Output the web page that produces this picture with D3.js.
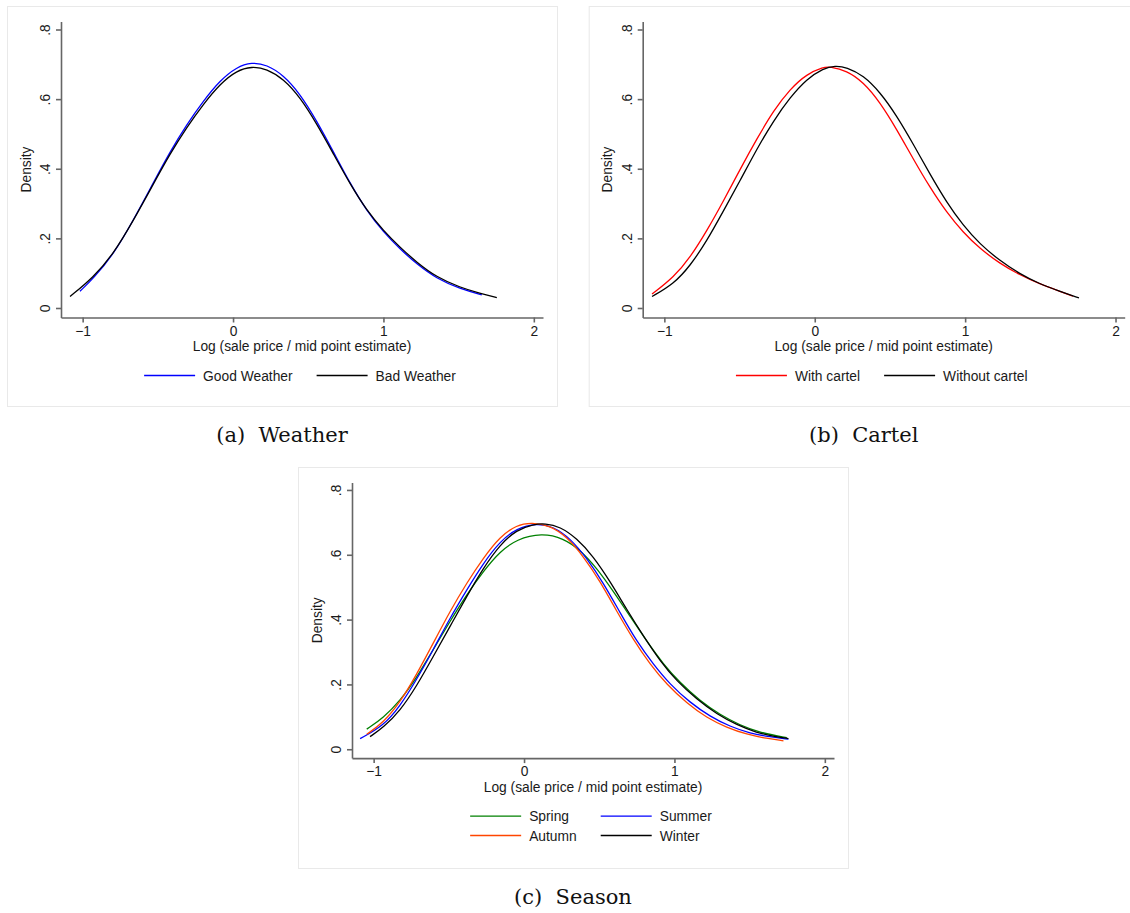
<!DOCTYPE html>
<html>
<head>
<meta charset="utf-8">
<title>Kernel densities of log sale price</title>
<style>
  body { margin: 0; background: #fff; }
  svg { display: block; }
  .tick text, .axis-title, .legend-label {
    font-family: "Liberation Sans", Arial, sans-serif;
    font-size: 13.8px;
    fill: #1a1a1a;
  }
  .caption {
    font-family: "DejaVu Serif", serif;
    font-size: 21px;
    fill: #111;
    white-space: pre;
  }
  .frame { fill: #fff; stroke: #e9e9e9; stroke-width: 1; }
  .axis path, .axis line { stroke: #666; stroke-width: 1.6; }
  .curve { fill: none; stroke-width: 1.3; stroke-linejoin: round; }
</style>
</head>
<body>
<svg width="1130" height="913"></svg>
<script src="https://d3js.org/d3.v7.min.js"></script>
<script>
// values: [log price ratio, density]
var goodWeather = [[-1.018,0.048],[-0.929,0.085],[-0.796,0.153],[-0.663,0.252],[-0.530,0.360],[-0.419,0.449],
  [-0.308,0.527],[-0.197,0.595],[-0.086,0.654],[0.024,0.692],[0.124,0.706],[0.224,0.699],[0.335,0.669],
  [0.446,0.615],[0.557,0.537],[0.667,0.449],[0.778,0.358],[0.889,0.279],[1.0,0.218],[1.111,0.169],
  [1.222,0.126],[1.355,0.084],[1.510,0.055],[1.654,0.038]];
var badWeather = [[-1.084,0.033],[-0.929,0.088],[-0.796,0.155],[-0.663,0.251],[-0.530,0.356],[-0.419,0.443],
  [-0.308,0.519],[-0.197,0.586],[-0.086,0.644],[0.024,0.682],[0.124,0.694],[0.224,0.687],[0.335,0.658],
  [0.446,0.605],[0.557,0.529],[0.667,0.443],[0.778,0.356],[0.889,0.280],[1.0,0.222],[1.111,0.174],
  [1.222,0.131],[1.355,0.088],[1.510,0.059],[1.643,0.042],[1.754,0.030]];

var withCartel = [[-1.082,0.040],[-0.938,0.088],[-0.827,0.146],[-0.717,0.222],[-0.606,0.308],[-0.496,0.399],
  [-0.385,0.486],[-0.274,0.567],[-0.164,0.629],[-0.053,0.672],[0.058,0.692],[0.100,0.693],[0.212,0.682],
  [0.323,0.649],[0.434,0.591],[0.544,0.514],[0.655,0.428],[0.765,0.347],[0.876,0.275],[0.987,0.217],
  [1.097,0.171],[1.230,0.128],[1.363,0.095],[1.496,0.069],[1.628,0.048],[1.717,0.034]];
var withoutCartel = [[-1.082,0.033],[-0.938,0.069],[-0.827,0.122],[-0.717,0.193],[-0.606,0.280],[-0.496,0.366],
  [-0.385,0.457],[-0.274,0.538],[-0.164,0.605],[-0.053,0.658],[0.058,0.689],[0.135,0.696],[0.212,0.692],
  [0.323,0.668],[0.434,0.620],[0.544,0.553],[0.655,0.471],[0.765,0.385],[0.876,0.304],[0.987,0.237],
  [1.097,0.184],[1.230,0.136],[1.363,0.098],[1.496,0.069],[1.628,0.048],[1.757,0.029]];

var spring = [[-1.046,0.062],[-0.936,0.097],[-0.825,0.149],[-0.714,0.221],[-0.603,0.308],[-0.492,0.395],
  [-0.381,0.477],[-0.271,0.549],[-0.160,0.610],[-0.049,0.648],[0.118,0.667],[0.262,0.651],[0.373,0.615],
  [0.483,0.559],[0.594,0.487],[0.705,0.410],[0.816,0.333],[0.927,0.262],[1.038,0.205],[1.171,0.149],
  [1.304,0.106],[1.437,0.074],[1.570,0.051],[1.747,0.036]];
var summer = [[-1.090,0.033],[-0.936,0.072],[-0.825,0.133],[-0.714,0.215],[-0.603,0.308],[-0.492,0.405],
  [-0.381,0.492],[-0.271,0.574],[-0.160,0.641],[-0.049,0.682],[0.084,0.697],[0.195,0.687],[0.306,0.651],
  [0.417,0.590],[0.528,0.513],[0.639,0.421],[0.749,0.333],[0.860,0.262],[0.971,0.200],[1.104,0.144],
  [1.237,0.101],[1.370,0.070],[1.503,0.049],[1.636,0.038],[1.758,0.031]];
var autumn = [[-1.046,0.046],[-0.936,0.082],[-0.825,0.144],[-0.714,0.231],[-0.603,0.328],[-0.492,0.426],
  [-0.381,0.513],[-0.271,0.590],[-0.160,0.656],[-0.049,0.692],[0.051,0.700],[0.173,0.690],[0.284,0.656],
  [0.395,0.595],[0.506,0.518],[0.616,0.426],[0.727,0.338],[0.838,0.262],[0.949,0.200],[1.082,0.142],
  [1.215,0.097],[1.348,0.067],[1.481,0.046],[1.614,0.033],[1.725,0.026]];
var winter = [[-1.024,0.039],[-0.936,0.067],[-0.825,0.118],[-0.714,0.195],[-0.603,0.287],[-0.492,0.379],
  [-0.381,0.472],[-0.271,0.559],[-0.160,0.631],[-0.049,0.677],[0.062,0.694],[0.140,0.697],[0.239,0.687],
  [0.350,0.651],[0.461,0.595],[0.572,0.518],[0.683,0.431],[0.794,0.349],[0.905,0.272],[1.016,0.210],
  [1.149,0.154],[1.282,0.108],[1.415,0.075],[1.548,0.051],[1.659,0.040],[1.758,0.033]];

var xTicks = [-1, 0, 1, 2];
var yTicks = [0, 0.2, 0.4, 0.6, 0.8];
var xTitle = 'Log (sale price / mid point estimate)';
var yTitle = 'Density';

var panels = [
  { x: 7, y: 6, h: 400, plotH: 296, caption: '(a)  Weather', cols: 2,
    series: [{ name: 'Good Weather', color: '#0000ff', values: goodWeather },
             { name: 'Bad Weather', color: '#000000', values: badWeather }] },
  { x: 588.7, y: 6, h: 400, plotH: 296, caption: '(b)  Cartel', cols: 2,
    series: [{ name: 'With cartel', color: '#ff0000', values: withCartel },
             { name: 'Without cartel', color: '#000000', values: withoutCartel }] },
  { x: 298, y: 467, h: 401, plotH: 275.6, caption: '(c)  Season', cols: 2,
    series: [{ name: 'Spring', color: '#008000', values: spring },
             { name: 'Summer', color: '#0000ff', values: summer },
             { name: 'Autumn', color: '#ff4500', values: autumn },
             { name: 'Winter', color: '#000000', values: winter }] }
];

var svg = d3.select('svg');
var W = 550, plotL = 54, plotT = 15.5, plotW = 482;

panels.forEach(function(p) {
  var g = svg.append('g').attr('transform', 'translate(' + p.x + ',' + p.y + ')');
  g.append('rect').attr('class', 'frame').attr('x', 0.5).attr('y', 0.5).attr('width', W).attr('height', p.h);

  var x = d3.scaleLinear().domain([-1.144, 2.061]).range([0, plotW]);
  var y = d3.scaleLinear().domain([-0.0273, 0.823]).range([p.plotH, 0]);
  var plot = g.append('g').attr('transform', 'translate(' + plotL + ',' + plotT + ')');

  // y axis, Stata style rotated labels
  var ya = plot.append('g').attr('class', 'axis')
    .call(d3.axisLeft(y).tickValues(yTicks).tickSize(5).tickSizeOuter(0)
      .tickFormat(function(d) { return d === 0 ? '0' : d3.format('.1f')(d).replace(/^0/, ''); }));
  ya.selectAll('.tick text')
    .attr('transform', 'rotate(-90)')
    .attr('x', 0).attr('y', -11).attr('dy', 0)
    .attr('text-anchor', 'middle');

  var xa = plot.append('g').attr('class', 'axis')
    .attr('transform', 'translate(0,' + p.plotH + ')')
    .call(d3.axisBottom(x).tickValues(xTicks).tickSize(5).tickSizeOuter(0).tickFormat(d3.format('d')));
  xa.selectAll('.tick text').attr('y', 18).attr('dy', 0);
  plot.selectAll('.domain').attr('fill', 'none');

  plot.append('text').attr('class', 'axis-title')
    .attr('transform', 'translate(-30.5,' + (p.plotH / 2) + ') rotate(-90)')
    .attr('text-anchor', 'middle').text(yTitle);
  plot.append('text').attr('class', 'axis-title')
    .attr('x', plotW / 2).attr('y', p.plotH + 33.5)
    .attr('text-anchor', 'middle').text(xTitle);

  var line = d3.line()
    .x(function(d) { return x(d[0]); })
    .y(function(d) { return y(d[1]); })
    .curve(d3.curveBasis);

  plot.selectAll('path.curve')
    .data(p.series)
    .enter().append('path')
    .attr('class', 'curve')
    .attr('stroke', function(s) { return s.color; })
    .attr('d', function(s) { return line(s.values); });

  // legend: keys and labels in columns, centered under the plot
  var keyW = 51, keyGap = 8, colGap = 24, rowH = 19.4;
  var legY = plotT + p.plotH + 58;
  var leg = g.append('g');
  var items = leg.selectAll('g').data(p.series).enter().append('g');
  items.append('line').attr('x1', 0).attr('x2', keyW).attr('y1', 0).attr('y2', 0)
    .attr('stroke', function(s) { return s.color; }).attr('stroke-width', 1.3);
  items.append('text').attr('class', 'legend-label')
    .attr('x', keyW + keyGap).attr('y', 5).text(function(s) { return s.name; });

  var colW = d3.range(p.cols).map(function() { return 0; });
  items.each(function(s, i) {
    var tw = this.querySelector('text').getComputedTextLength();
    var c = i % p.cols;
    colW[c] = Math.max(colW[c], keyW + keyGap + tw);
  });
  var total = d3.sum(colW) + colGap * (p.cols - 1);
  var startX = plotL + plotW / 2 - 2 - total / 2;
  items.attr('transform', function(s, i) {
    var c = i % p.cols, r = Math.floor(i / p.cols);
    var cx = startX + d3.sum(colW.slice(0, c)) + colGap * c;
    return 'translate(' + cx + ',' + (legY + r * rowH) + ')';
  });

  svg.append('text').attr('class', 'caption')
    .attr('x', p.x + W / 2).attr('y', p.y + p.h + 36)
    .attr('text-anchor', 'middle').text(p.caption);
});
</script>
</body>
</html>
